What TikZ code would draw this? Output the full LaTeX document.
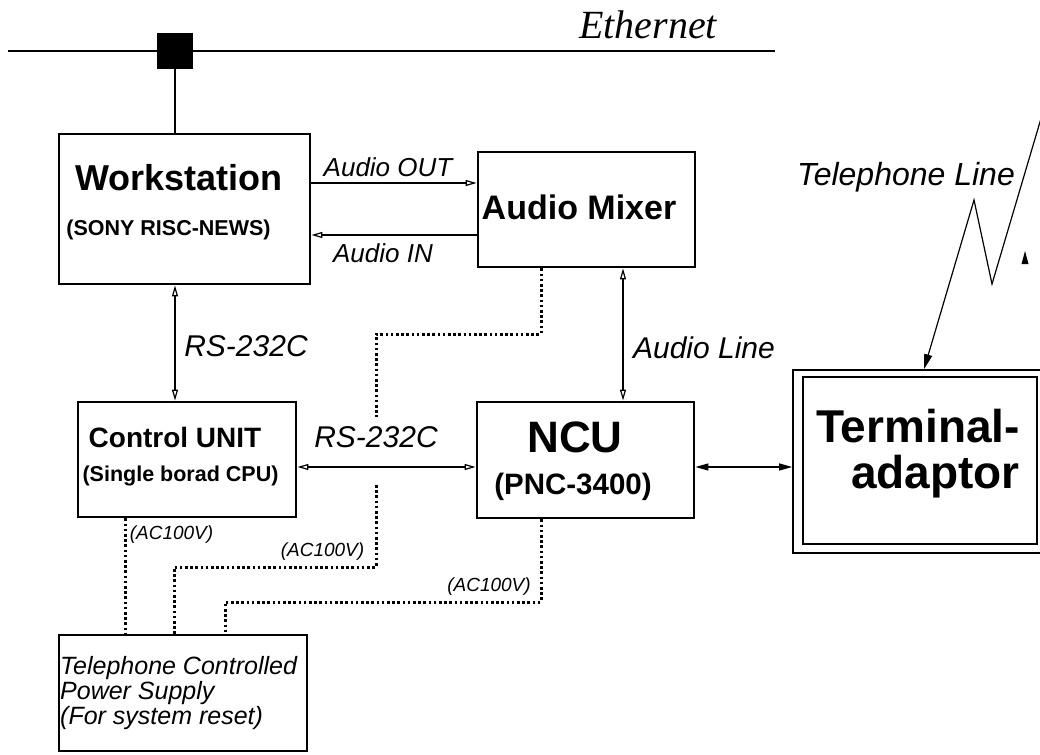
\documentclass[tikz,border=0pt]{standalone}
\usepackage{fontspec}
\setmainfont{Liberation Sans}
\newfontfamily\ethfont{Liberation Serif}
\usetikzlibrary{arrows.meta}
\newcommand{\fsz}[1]{\fontsize{#1}{#1}\selectfont}

\tikzset{
  unit/.style={draw, line width=2.8pt, inner sep=0pt},
  big/.style={font=\bfseries\fsz{#1}, inner sep=0pt},
  lbl/.style={font=\itshape\fsz{#1}, inner sep=0pt},
  sig/.style={line width=1.2pt, >={Triangle[open,length=11pt,width=6pt,line width=1.2pt]}},
  line/.style={line width=1.2pt, >={Triangle[length=13pt,width=7pt]}},
  mains/.style={line width=3pt, dash pattern=on 2.6pt off 2.6pt}
}

\begin{document}
\begin{tikzpicture}[x=1pt, y=-1pt]
  \useasboundingbox (0,0) rectangle (1040,754);

  % ethernet with the tap of the workstation
  \coordinate (eth-l) at (8,51);
  \coordinate (eth-r) at (775,51);
  \draw[line width=2.6pt] (eth-l) -- (eth-r);
  \node[fill, minimum size=36pt, inner sep=0pt] (tap) at (175,51) {};
  \node[font=\ethfont\itshape\fsz{40}, inner sep=0pt] (eth) at (648,25) {Ethernet};

  % units
  \node[unit, minimum width=251pt, minimum height=150pt] (ws) at (184.5,209) {};
  \node[unit, minimum width=217pt, minimum height=115pt] (mix) at (586.5,209.5) {};
  \node[unit, minimum width=218pt, minimum height=115pt] (cu) at (187,459.5) {};
  \node[unit, minimum width=217pt, minimum height=116pt] (ncu) at (585.5,460) {};
  \node[unit, minimum width=248pt, minimum height=116pt] (ps) at (183,693) {};
  \node[draw, line width=1.6pt, minimum width=254pt, minimum height=183pt] (ta) at (920,461.5) {};
  \node[draw, line width=1.6pt, minimum width=234pt, minimum height=167pt] (ta-in) at (920,460.5) {};

  \node[big=36] (ws-t) at (179,178) {Workstation};
  \node[big=21.5] (ws-s) at (168.5,230) {(SONY RISC-NEWS)};
  \node[big=34] (mix-t) at (579,207) {Audio Mixer};
  \node[big=28] (cu-t) at (175,437) {Control UNIT};
  \node[big=21.5] (cu-s) at (180.5,476) {(Single borad CPU)};
  \node[big=44] (ncu-t) at (575,437) {NCU};
  \node[big=29.5] (ncu-s) at (573,487) {(PNC-3400)};
  \node[big=46, align=right] (ta-t) at (918,454) {Terminal-\\adaptor};
  \node[lbl=25, align=left, anchor=west] (ps-t) at (60,693)
    {Telephone Controlled\\Power Supply\\(For system reset)};

  % signal lines
  \draw[sig, ->] (ws.east |- 0,183) -- (mix.west |- 0,183);
  \draw[sig, ->] (mix.west |- 0,235) -- (ws.east |- 0,235);
  \draw[sig, <->] (ws.south -| 175,0) -- (cu.north -| 175,0);
  \draw[sig, <->] (cu.east |- 0,467) -- (ncu.west |- 0,467);
  \draw[sig, <->] (mix.south -| 623,0) -- (ncu.north -| 623,0);
  \draw[line, <->] (ncu.east |- 0,467) -- (ta.west |- 0,467);
  \draw[line width=2.4pt] (tap) -- (tap |- ws.north);

  \node[lbl=26] (l-out) at (388,167) {Audio OUT};
  \node[lbl=26] (l-in) at (383,253) {Audio IN};
  \node[lbl=30] (l-rs1) at (246,346) {RS-232C};
  \node[lbl=30] (l-rs2) at (376,437) {RS-232C};
  \node[lbl=30] (l-aud) at (704,348) {Audio Line};

  % telephone line
  \coordinate (tel) at (1045,105);
  \draw[line, ->, >={Triangle[length=15pt,width=8pt]}]
    (tel) -- (992,284) -- (974,200) -- (ta.north -| 924,0);
  \fill (1021.5,264) -- (1028.5,264) -- (1025,251) -- cycle;
  \node[lbl=32] (l-tel) at (906,177) {Telephone Line};

  % mains supply
  \coordinate (gap-a) at (376,417);
  \coordinate (gap-b) at (376,485);
  \draw[mains] (cu.south -| 125,0) -- (ps.north -| 125,0);
  \draw[mains] (mix.south -| 541,0) |- (376,334) -- (gap-a);
  \draw[mains] (gap-b) |- (174,567) -- (ps.north -| 174,0);
  \draw[mains] (ncu.south -| 541,0) |- (225,602) -- (ps.north -| 225,0);

  \node[lbl=19] (ac1) at (171.5,535) {(AC100V)};
  \node[lbl=19] (ac2) at (322.5,552) {(AC100V)};
  \node[lbl=19] (ac3) at (489,587) {(AC100V)};
\end{tikzpicture}
\end{document}
